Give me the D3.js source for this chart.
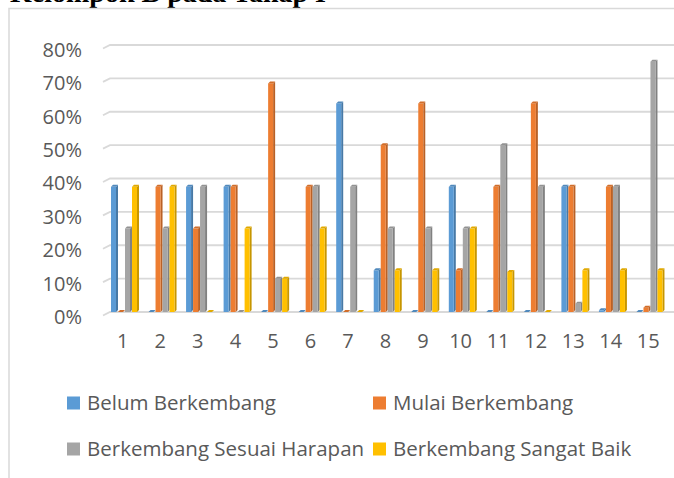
<!DOCTYPE html>
<html>
<head>
<meta charset="utf-8">
<script src="https://cdn.jsdelivr.net/npm/d3@7"></script>
<style>
	body { margin: 0; background: #fff; }
	svg { display: block; }
	text { font-family: 'Open Sans', sans-serif; fill: #595959; }
</style>
</head>
<body>
<svg id="chart" width="674" height="478"></svg>
<script>
const title = 'Kelompok B pada Tahap I';
const categories = ['1', '2', '3', '4', '5', '6', '7', '8', '9', '10', '11', '12', '13', '14', '15'];
const series = ['Belum Berkembang', 'Mulai Berkembang', 'Berkembang Sesuai Harapan', 'Berkembang Sangat Baik'];
const belum = [0.375, 0, 0.375, 0.375, 0, 0, 0.625, 0.125, 0, 0.375, 0, 0, 0.375, 0.005, 0];
const mulai = [0, 0.375, 0.25, 0.375, 0.685, 0.375, 0, 0.5, 0.625, 0.125, 0.375, 0.625, 0.375, 0.375, 0.013];
const sesuai = [0.25, 0.25, 0.375, 0, 0.1, 0.375, 0.375, 0.25, 0.25, 0.25, 0.5, 0.375, 0.025, 0.375, 0.75];
const sangat = [0.375, 0.375, 0, 0.25, 0.1, 0.25, 0, 0.125, 0.125, 0.25, 0.12, 0, 0.125, 0.125, 0.125];
const yTicks = [0, 0.1, 0.2, 0.3, 0.4, 0.5, 0.6, 0.7, 0.8];
const colors = ['#5b9bd5', '#ed7d31', '#a5a5a5', '#ffc000'];

function draw () {
	const svg = d3.select('#chart');
	const values = [belum, mulai, sesuai, sangat];
	const dx = 2, dy = 2;

	const x0 = d3.scaleBand().domain(categories).range([104, 667]);
	const x1 = d3.scaleBand().domain(series).range([7, 35]);
	const y = d3.scaleLinear().domain([0, 0.8]).range([312, 45]);

	// frame + title
	svg.append('text')
		.attr('x', 10).attr('y', 1.5)
		.style('font-family', "'Liberation Serif', serif")
		.style('font-weight', 'bold')
		.style('font-size', '28px')
		.style('fill', '#000')
		.text(title);
	svg.append('path')
		.attr('d', 'M9,478 V8.5 H674')
		.attr('fill', 'none')
		.attr('stroke', '#d9d9d9')
		.attr('stroke-width', 1.5);

	// gridlines
	svg.append('g').selectAll('path')
		.data(yTicks).join('path')
		.attr('d', d => `M103,${y(d) + 3.5} L110,${y(d)} H674`)
		.attr('fill', 'none')
		.attr('stroke', '#d9d9d9')
		.attr('stroke-width', 1.8);

	const yAxis = d3.axisLeft(y).tickValues(yTicks).tickFormat(d3.format('.0%')).tickSize(0).tickPadding(0);
	const ya = svg.append('g')
		.attr('transform', 'translate(82,5)')
		.call(yAxis);
	ya.select('.domain').remove();
	ya.selectAll('text').style('font-size', '20px').style('fill', '#595959');

	const xAxis = d3.axisBottom(x0).tickSize(0).tickPadding(0);
	const xa = svg.append('g')
		.attr('transform', 'translate(0,334)')
		.call(xAxis);
	xa.select('.domain').remove();
	xa.selectAll('text').style('font-size', '20px').style('fill', '#595959');

	// 3d columns
	const bars = [];
	categories.forEach((c, i) => {
		series.forEach((s, j) => {
			bars.push({ c, s, j, v: values[j][i] });
		});
	});
	const w = x1.bandwidth() - dx;
	const g = svg.append('g').selectAll('g')
		.data(bars).join('g');
	g.append('path')
		.attr('d', d => {
			const x = x0(d.c) + x1(d.s) + w, t = y(d.v), b = y(0);
			return `M${x},${t} L${x + dx},${t - dy} V${b - dy} L${x},${b} Z`;
		})
		.attr('fill', d => d3.color(colors[d.j]).darker(0.7));
	g.append('rect')
		.attr('x', d => x0(d.c) + x1(d.s))
		.attr('y', d => y(d.v))
		.attr('width', w)
		.attr('height', d => y(0) - y(d.v))
		.attr('fill', d => colors[d.j]);
	g.append('path')
		.attr('d', d => {
			const x = x0(d.c) + x1(d.s), t = y(d.v);
			return `M${x},${t} L${x + dx},${t - dy} H${x + w + dx} L${x + w},${t} Z`;
		})
		.attr('fill', d => d3.color(colors[d.j]).darker(0.35));

	// legend
	const legendPos = [[67, 403], [373, 403], [67, 449], [373, 449]];
	const lg = svg.append('g').selectAll('g')
		.data(series).join('g')
		.attr('transform', (d, i) => `translate(${legendPos[i]})`);
	lg.append('rect')
		.attr('x', 0).attr('y', -6.5)
		.attr('width', 13).attr('height', 13)
		.attr('fill', (d, i) => colors[i]);
	lg.append('text')
		.attr('x', 20).attr('y', 7)
		.style('font-size', '20.5px')
		.text(d => d);
}

if (document.readyState === 'loading') {
	document.addEventListener('DOMContentLoaded', draw);
} else {
	draw();
}
</script>
</body>
</html>
